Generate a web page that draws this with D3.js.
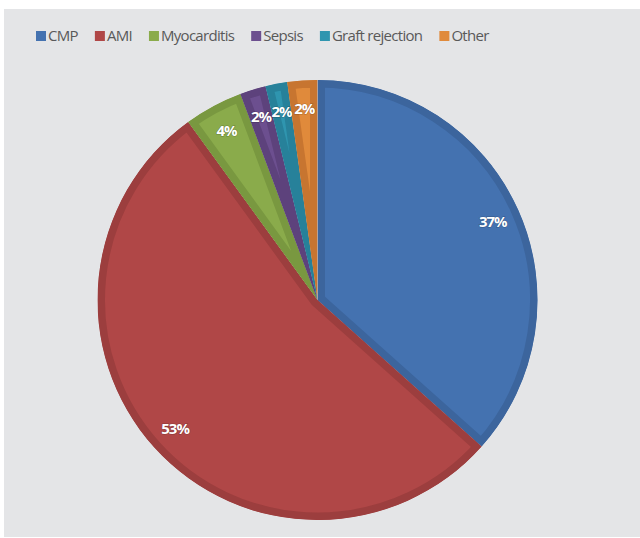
<!DOCTYPE html>
<html>
<head>
<meta charset="utf-8">
<title>Causes pie</title>
<script src="https://cdn.jsdelivr.net/npm/d3@7"></script>
<style>
    body { margin: 0; background: #fff; overflow: hidden; }
    #chart svg { display: block; }
</style>
</head>
<body>
<div id="chart"></div>
<script>
// chart data
var categories = ["CMP", "AMI", "Myocarditis", "Sepsis", "Graft rejection", "Other"];
var shares = [36.6, 53.4, 4.3, 1.9, 1.6, 2.2];
var fills = ["#4472b0", "#b04747", "#8aab4b", "#6c4f8f", "#2f95af", "#e08a3b"];
var edges = ["#3c659d", "#9c3e3e", "#799840", "#5d427c", "#27819a", "#c77530"];

var width = 640, height = 538;
var cx = 317.5, cy = 300, radius = 220;

var svg = d3.select("#chart").append("svg")
    .attr("width", width).attr("height", height);

svg.append("rect")
    .attr("x", 4).attr("y", 9)
    .attr("width", 636).attr("height", 528)
    .attr("fill", "#e4e5e7");

var data = categories.map(function (c, i) {
    return { name: c, value: shares[i], fill: fills[i], edge: edges[i] };
});

var pie = d3.pie().sort(null).value(function (d) { return d.value; });
var arcs = pie(data);
var arc = d3.arc().innerRadius(0).outerRadius(radius);
var labelArc = d3.arc().innerRadius(192).outerRadius(192);

var defs = svg.append("defs");
var g = svg.append("g").attr("transform", "translate(" + cx + "," + cy + ")");

arcs.forEach(function (a, i) {
    defs.append("clipPath").attr("id", "clip" + i)
        .append("path").attr("d", arc(a));
});

// slice body plus a darker band along its edges
g.selectAll("path.slice")
    .data(arcs)
    .enter().append("path")
    .attr("class", "slice")
    .attr("d", arc)
    .attr("fill", function (d) { return d.data.fill; })
    .attr("stroke", function (d) { return d.data.edge; })
    .attr("stroke-width", 15)
    .attr("stroke-linejoin", "miter")
    .attr("clip-path", function (d, i) { return "url(#clip" + i + ")"; });

var fmt = function (v) { return Math.round(v) + "%"; };

g.selectAll("text.pct")
    .data(arcs)
    .enter().append("text")
    .attr("class", "pct")
    .attr("transform", function (d) { return "translate(" + labelArc.centroid(d) + ")"; })
    .attr("text-anchor", "middle")
    .attr("dy", "0.35em")
    .style("font", "bold 15px 'Open Sans', sans-serif")
    .style("letter-spacing", "-1px")
    .attr("fill", "#ffffff")
    .style("paint-order", "stroke")
    .attr("stroke", "rgba(0,0,0,0.25)")
    .attr("stroke-width", 1.2)
    .text(function (d) { return fmt(d.data.value); });

// legend across the top
var legend = svg.append("g").attr("transform", "translate(36,36)");
var lx = 0;
data.forEach(function (d) {
    var item = legend.append("g").attr("transform", "translate(" + lx + ",0)");
    item.append("rect")
        .attr("x", 0).attr("y", -5)
        .attr("width", 10).attr("height", 10)
        .attr("fill", d.fill);
    var t = item.append("text")
        .attr("x", 12).attr("y", 0).attr("dy", "0.36em")
        .style("font", "15px 'Open Sans', sans-serif")
        .style("letter-spacing", "-0.7px")
        .attr("fill", "#595959")
        .text(d.name);
    lx += 12 + t.node().getComputedTextLength() + 17;
});
</script>
</body>
</html>
